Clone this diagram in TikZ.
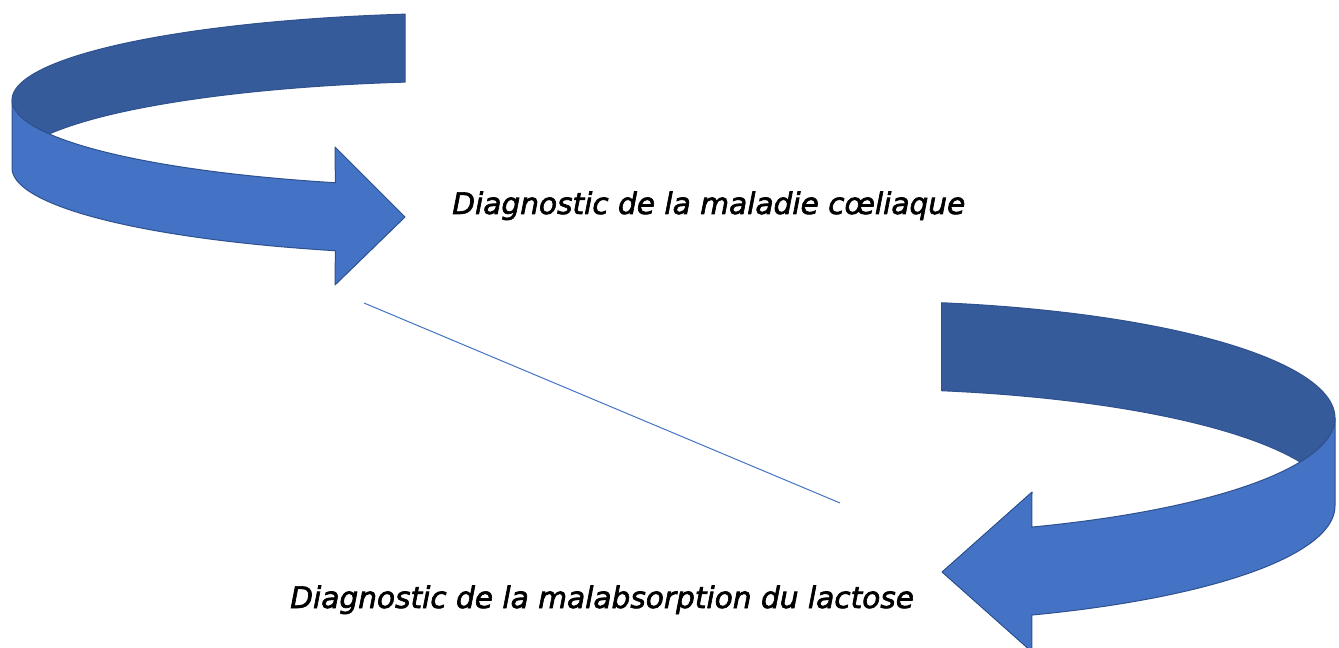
\documentclass[tikz,border=0pt]{standalone}
\usepackage{fontspec}
\setmainfont{DejaVu Sans}[ItalicFeatures={FakeBold=2.2}]
\usepackage{tikz}
\usetikzlibrary{positioning}
\definecolor{lightband}{RGB}{68, 114, 196}
\definecolor{darkband}{RGB}{54, 91, 154}
\definecolor{edgeblue}{RGB}{47, 82, 143}
\tikzstyle{back} = [fill=darkband, draw=edgeblue, line width=0.75pt, line join=round]
\tikzstyle{front} = [fill=lightband, draw=edgeblue, line width=0.75pt, line join=round]
\tikzstyle{caption} = [anchor=base west, inner sep=0pt, text=black, font=\itshape\fontsize{22.2}{26}\selectfont]
\tikzstyle{tline} = [draw=lightband, line width=0.75pt]

\begin{document}
\begin{tikzpicture}[x=0.75pt, y=-0.75pt]

\useasboundingbox (0,0) rectangle (1339,648);

% upper turn arrow =============================

\coordinate (head1a) at (335,147);
\coordinate (tip1) at (405,217);
\coordinate (head1b) at (335,285);

% inside of the ribbon
\path[back] plot[domain=260.8:180, samples=50] ({480+468*cos(\x)},{100+87*sin(\x)})
  -- plot[domain=180:157, samples=15] ({480+468*cos(\x)},{100+87*sin(\x)})
  -- plot[domain=203:260.8, samples=50] ({480+468*cos(\x)},{168+87*sin(\x)})
  -- cycle;

% front of the ribbon with head
\path[front] plot[domain=180:108, samples=50] ({480+468*cos(\x)},{100+87*sin(\x)})
  -- (head1a) -- (tip1) -- (head1b)
  -- plot[domain=108:180, samples=50] ({480+468*cos(\x)},{168+87*sin(\x)})
  -- cycle;

% lower turn arrow =============================

\coordinate (head2a) at (1032,492);
\coordinate (tip2) at (942,572);
\coordinate (head2b) at (1032,652);

% inside of the ribbon
\path[back] plot[domain=279.9:360, samples=50] ({860+475*cos(\x)},{418+117*sin(\x)})
  -- plot[domain=360:382.1, samples=15] ({860+475*cos(\x)},{418+117*sin(\x)})
  -- plot[domain=337.9:279.9, samples=50] ({860+475*cos(\x)},{506+117*sin(\x)})
  -- cycle;

% front of the ribbon with head
\path[front] plot[domain=0:68.8, samples=50] ({860+475*cos(\x)},{418+117*sin(\x)})
  -- (head2a) -- (tip2) -- (head2b)
  -- plot[domain=68.8:0, samples=50] ({860+475*cos(\x)},{506+117*sin(\x)})
  -- cycle;

% labels
\node[caption] (celiac) at (452,214) {Diagnostic de la maladie cœliaque};
\node[caption] (lactose) at (290,608) {Diagnostic de la malabsorption du lactose};

% thin line between
\coordinate (lineA) at (364,303);
\coordinate (lineB) at (840,503);
\path[tline] (lineA) -- (lineB);

\end{tikzpicture}
\end{document}
